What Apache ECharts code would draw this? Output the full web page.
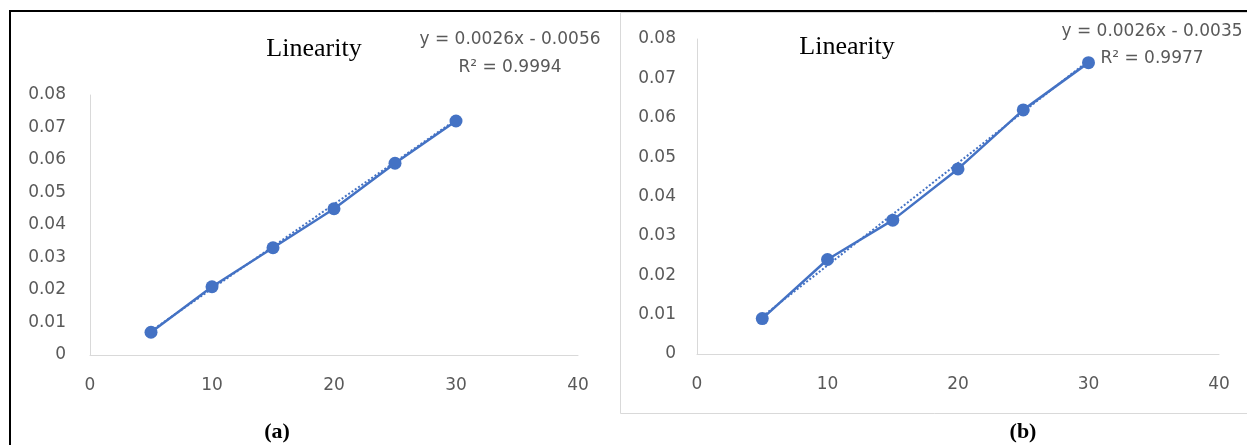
<!DOCTYPE html>
<html>
<head>
<meta charset="utf-8">
<script src="https://cdn.jsdelivr.net/npm/echarts@6/dist/echarts.min.js"></script>
<style>
html,body{margin:0;padding:0;background:#fff;}
#c{width:1247px;height:445px;}
</style>
</head>
<body>
<div id="c"></div>
<script>
// ---- data ----
const concentrations = [5, 10, 15, 20, 25, 30];
const absorbanceA = [0.007, 0.021, 0.033, 0.045, 0.059, 0.072];
const absorbanceB = [0.009, 0.024, 0.034, 0.047, 0.062, 0.074];
const trendX = [5, 30];
const trendA = [0.0074, 0.0724];
const trendB = [0.0095, 0.0745];
const xTicks = [0, 10, 20, 30, 40];
const yTicks = [0, 0.01, 0.02, 0.03, 0.04, 0.05, 0.06, 0.07, 0.08];
const equationA = ['y = 0.0026x - 0.0056', 'R² = 0.9994'];
const equationB = ['y = 0.0026x - 0.0035', 'R² = 0.9977'];
const titleText = 'Linearity';
const panelLabels = ['(a)', '(b)'];

const blue = '#4472C4';
const grey = '#595959';
const axisGrey = '#d9d9d9';
const sans = 'DejaVu Sans';

const pairs = (xs, ys) => xs.map((x, i) => [x, ys[i]]);

function xAxis(gi) {
  return {
    type: 'value', gridIndex: gi, min: xTicks[0], max: xTicks[xTicks.length - 1], interval: 10,
    axisLine: { show: true, onZero: false, lineStyle: { color: axisGrey, width: 1 } },
    axisTick: { show: false }, splitLine: { show: false },
    axisLabel: { color: grey, fontFamily: sans, fontSize: 17, margin: 22 }
  };
}
function yAxis(gi, margin) {
  return {
    type: 'value', gridIndex: gi, min: yTicks[0], max: yTicks[yTicks.length - 1], interval: 0.01,
    axisLine: { show: true, lineStyle: { color: axisGrey, width: 1 } },
    axisTick: { show: false }, splitLine: { show: false },
    axisLabel: { color: grey, fontFamily: sans, fontSize: 17, margin: margin,
      formatter: v => v === 0 ? '0' : v.toFixed(2) }
  };
}
function dataSeries(idx, ys) {
  return {
    type: 'line', xAxisIndex: idx, yAxisIndex: idx, data: pairs(concentrations, ys),
    symbol: 'circle', symbolSize: 13, z: 3,
    lineStyle: { color: blue, width: 2.5 }, itemStyle: { color: blue }
  };
}
function trendSeries(idx, ys) {
  return {
    type: 'line', xAxisIndex: idx, yAxisIndex: idx, data: pairs(trendX, ys),
    symbol: 'none', z: 2,
    lineStyle: { color: blue, width: 2, type: [2, 2] }
  };
}
function txt(x, y, t, style) {
  return { type: 'text', x: x, y: y, style: Object.assign({ text: t, align: 'center', verticalAlign: 'middle' }, style) };
}
const eqStyle = { fill: grey, font: '17px "DejaVu Sans"' };
const titleStyle = { fill: '#000', font: '26px "Liberation Serif"' };
const labelStyle = { fill: '#000', font: 'bold 22px "Liberation Serif"' };

const chart = echarts.init(document.getElementById('c'), null, { renderer: 'canvas' });
chart.setOption({
  animation: false,
  backgroundColor: '#fff',
  grid: [
    { left: 90, top: 95, width: 488, height: 260 },
    { left: 697, top: 39, width: 522, height: 315 }
  ],
  xAxis: [xAxis(0), xAxis(1)],
  yAxis: [yAxis(0, 24), yAxis(1, 21)],
  series: [
    trendSeries(0, trendA), dataSeries(0, absorbanceA),
    trendSeries(1, trendB), dataSeries(1, absorbanceB)
  ],
  graphic: [
    // outer black frame (top and left)
    { type: 'rect', shape: { x: 9, y: 10, width: 1240, height: 2 }, style: { fill: '#000' } },
    { type: 'rect', shape: { x: 9, y: 10, width: 2, height: 440 }, style: { fill: '#000' } },
    // panel (b) light border
    { type: 'rect', shape: { x: 620.5, y: 12.5, width: 640, height: 401 }, style: { fill: 'none', stroke: axisGrey, lineWidth: 1 } },
    txt(314, 49, titleText, titleStyle),
    txt(847, 47, titleText, titleStyle),
    txt(510, 40, equationA[0], eqStyle),
    txt(510, 68, equationA[1], eqStyle),
    txt(1152, 32, equationB[0], eqStyle),
    txt(1152, 59, equationB[1], eqStyle),
    txt(277, 432, panelLabels[0], labelStyle),
    txt(1023, 432, panelLabels[1], labelStyle)
  ]
});
</script>
</body>
</html>
